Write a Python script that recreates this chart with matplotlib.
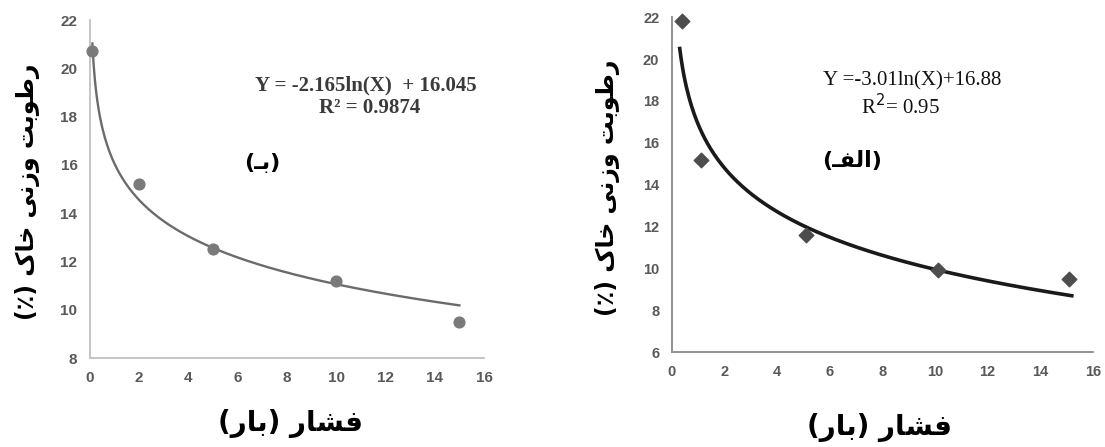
import matplotlib
matplotlib.use('Agg')
import matplotlib.pyplot as plt
import numpy as np

# panel (b) - left
pressure_b = [0.1, 2, 5, 10, 15]
moisture_b = [20.7, 15.2, 12.5, 11.2, 9.5]
coef_b = (-2.165, 16.045)
eq_b = 'Y = -2.165ln(X)  + 16.045'
r2_b = 'R² = 0.9874'

# panel (a) - right
pressure_a = [0.4, 1.1, 5.1, 10.1, 15.1]
moisture_a = [21.8, 15.2, 11.6, 9.9, 9.5]
coef_a = (-3.01, 16.88)
eq_a = 'Y =-3.01ln(X)+16.88'
r2_a = 'R$^2$= 0.95'

xticks = [0, 2, 4, 6, 8, 10, 12, 14, 16]

# persian labels written in presentation forms, visual (left-to-right) order
ylabel_fa = '(\u066A) \uFB8E\uFE8E\uFEA7 \uFBFD\uFEE7\uFEAF\uFEED \uFE96\uFE91\uFEEE\uFEC3\uFEAD'
xlabel_fa = '(\uFEAD\uFE8E\uFE91) \uFEAD\uFE8E\uFEB8\uFED3'
tag_b = '(\u0640\uFE91)'
tag_a = '(\u0640\uFED4\uFEDF\uFE8D)'

fa_font = ['DejaVu Sans']
tick_color = '#595959'


def style_axis(ax, axis_color, ylim, yticks, size):
    ax.set_xlim(0, 16)
    ax.set_ylim(*ylim)
    ax.set_xticks(xticks)
    ax.set_yticks(yticks)
    for s in ['top', 'right']:
        ax.spines[s].set_visible(False)
    for s in ['left', 'bottom']:
        ax.spines[s].set_color(axis_color)
        ax.spines[s].set_linewidth(1.3)
    ax.tick_params(length=0, pad=9, labelcolor=tick_color, labelsize=size)
    for lab in ax.get_xticklabels() + ax.get_yticklabels():
        lab.set_fontweight('bold')
        lab.set_family(['Liberation Sans Narrow', 'Liberation Sans'])
    ax.patch.set_alpha(0)


fig = plt.figure(figsize=(11.05, 4.47), dpi=100)

# left panel
ax1 = fig.add_axes([0.0814, 0.199, 0.3566, 0.756])
style_axis(ax1, '#c0c0c0', (8, 22), [8, 10, 12, 14, 16, 18, 20, 22], 11)
xs = np.linspace(pressure_b[0], pressure_b[-1], 300)
ax1.plot(xs, coef_b[0] * np.log(xs) + coef_b[1], color='#6b6b6b', lw=1.7, zorder=2)
ax1.scatter(pressure_b, moisture_b, s=60, color='#7a7a7a', zorder=3, clip_on=False)

# right panel
ax2 = fig.add_axes([0.608, 0.2125, 0.381, 0.749])
style_axis(ax2, '#8a8a8a', (6, 22), [6, 8, 10, 12, 14, 16, 18, 20, 22], 10.5)
xs = np.linspace(0.3, 15.2, 300)
ax2.plot(xs, coef_a[0] * np.log(xs) + coef_a[1], color='#1a1a1a', lw=2.6, zorder=2)
ax2.scatter(pressure_a, moisture_a, marker='D', s=55, color='#4d4d4d', zorder=3, clip_on=False)

# equations
fig.text(366 / 1105, 1 - 85 / 447, eq_b, ha='center', va='center', fontsize=15,
         fontweight='bold', family='Liberation Serif', color='#3a3a3a')
fig.text(370 / 1105, 1 - 108 / 447, r2_b, ha='center', va='center', fontsize=15,
         fontweight='bold', family='Liberation Serif', color='#3a3a3a')
fig.text(912 / 1105, 1 - 81 / 447, eq_a, ha='center', va='center', fontsize=15,
         family='Liberation Serif', color='#111111')
fig.text(900 / 1105, 1 - 107 / 447, r2_a, ha='center', va='center', fontsize=15,
         family='Liberation Serif', color='#111111')

# panel tags
fig.text(262 / 1105, 1 - 163 / 447, tag_b, ha='center', va='center', fontsize=16,
         fontweight='bold', family=fa_font)
fig.text(852 / 1105, 1 - 161 / 447, tag_a, ha='center', va='center', fontsize=16,
         fontweight='bold', family=fa_font)

# axis titles
fig.text(28 / 1105, 1 - 192 / 447, ylabel_fa, rotation=90, ha='center', va='center',
         fontsize=17, fontweight='bold', family=fa_font)
fig.text(607 / 1105, 1 - 188 / 447, ylabel_fa, rotation=90, ha='center', va='center',
         fontsize=17, fontweight='bold', family=fa_font)
fig.text(290 / 1105, 1 - 424 / 447, xlabel_fa, ha='center', va='center',
         fontsize=20, fontweight='bold', family=fa_font)
fig.text(880 / 1105, 1 - 428 / 447, xlabel_fa, ha='center', va='center',
         fontsize=20, fontweight='bold', family=fa_font)

fig.savefig('out.png', dpi=100, facecolor='white')
